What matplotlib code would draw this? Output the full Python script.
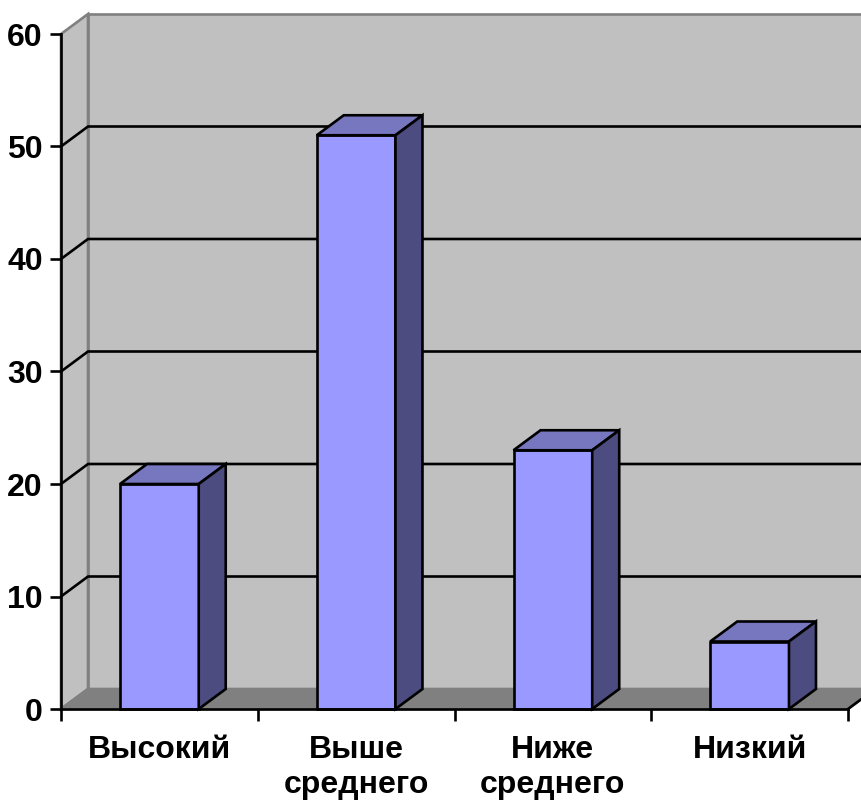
import numpy as np
import matplotlib.pyplot as plt
from matplotlib.patches import Polygon

plt.rcParams['font.family'] = ['Liberation Sans', 'DejaVu Sans']
plt.rcParams['font.weight'] = 'bold'

categories = ['Высокий', 'Выше\nсреднего', 'Ниже\nсреднего', 'Низкий']
values = [20, 51, 23, 6]
y_ticks = [0, 10, 20, 30, 40, 50, 60]

front_col = '#9999FF'
top_col = '#7777C0'
side_col = '#4C4C80'
wall_col = '#C0C0C0'
floor_col = '#808080'
edge_gray = '#808080'

W, H = 862, 805
fig = plt.figure(figsize=(W / 100, H / 100), dpi=100)
# front plane of the 3d box, in pixels
x0, x1 = 61, 848
y0, y1 = 709, 34
ax = fig.add_axes([x0 / W, 1 - y0 / H, (x1 - x0) / W, (y0 - y1) / H])
ax.set_xlim(0, len(categories))
ax.set_ylim(0, 60)
ax.patch.set_visible(False)

# depth offset of the 3d box in data units
dx = 27 / ((x1 - x0) / len(categories))
dy = 20 / ((y0 - y1) / 60)
n = len(categories)
ymax = y_ticks[-1]
lw = 1.9


def poly(pts, fc, ec='black', lw=lw, z=1):
    p = Polygon(pts, closed=True, facecolor=fc, edgecolor=ec, linewidth=lw,
                zorder=z, clip_on=False, joinstyle='miter')
    ax.add_patch(p)


# walls and floor
poly([(dx, dy), (n + dx + 0.2, dy), (n + dx + 0.2, ymax + dy), (dx, ymax + dy)],
     wall_col, ec=edge_gray, z=0)
poly([(0, 0), (0, ymax), (dx, ymax + dy), (dx, dy)], wall_col, ec=edge_gray, z=0)
for v in y_ticks[1:-1]:
    ax.plot([0, dx, n + dx + 0.2], [v, v + dy, v + dy], color='black', lw=lw,
            zorder=1, clip_on=False, solid_capstyle='butt')
poly([(0, 0), (n, 0), (n + dx, dy), (dx, dy)], floor_col, ec=edge_gray, z=2)
ax.plot([n, n + dx], [0, dy], color='black', lw=lw, zorder=2, clip_on=False)

# bars
w = 0.4
for i, v in enumerate(values):
    l = i + (1 - w) / 2
    r = l + w
    poly([(l, 0), (r, 0), (r, v), (l, v)], front_col, z=5)
    poly([(l, v), (r, v), (r + dx, v + dy), (l + dx, v + dy)], top_col, z=5)
    poly([(r, 0), (r + dx, dy), (r + dx, v + dy), (r, v)], side_col, z=5)

for s in ['top', 'right']:
    ax.spines[s].set_visible(False)
for s in ['left', 'bottom']:
    ax.spines[s].set_linewidth(lw)
    ax.spines[s].set_zorder(10)

ax.set_yticks(y_ticks)
ax.tick_params(axis='y', length=8, width=lw, pad=5, labelsize=23)
ax.set_xticks(np.arange(n + 1))
ax.set_xticklabels([])
ax.set_xticks(np.arange(n) + 0.5, minor=True)
ax.set_xticklabels(categories, minor=True, linespacing=1.2)
ax.tick_params(axis='x', which='major', length=8.5, width=lw)
ax.tick_params(axis='x', which='minor', length=0, pad=19, labelsize=23)

fig.savefig('out.png', dpi=100)
